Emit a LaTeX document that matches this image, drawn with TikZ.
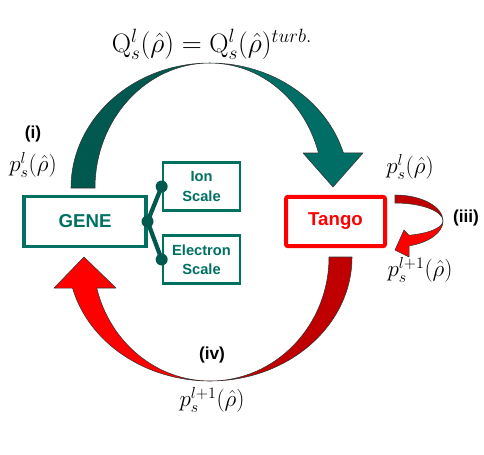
\documentclass[tikz,border=0pt]{standalone}
\usepackage{fontspec}
\newfontfamily\arial{Liberation Sans}
\definecolor{tealF}{RGB}{0,110,100}
\definecolor{tealB}{RGB}{0,88,78}
\definecolor{boxteal}{RGB}{0,112,98}
\definecolor{redF}{RGB}{255,0,0}
\definecolor{redB}{RGB}{192,0,0}
\tikzset{
  band/.style={draw=black!80, line width=0.4pt, line join=round},
  tbox/.style={draw=boxteal, line width=2.8pt, text=boxteal, inner sep=0pt, font=\arial\bfseries\fontsize{14}{16}\selectfont},
  sbox/.style={draw=boxteal, line width=2pt, text=boxteal, inner sep=0pt, align=center, font=\arial\bfseries\fontsize{11}{14.5}\selectfont, minimum width=57.75pt, minimum height=36pt},
  rbox/.style={draw=redF, line width=3pt, rounded corners=1.5pt, text=redF, inner sep=0pt, font=\arial\bfseries\fontsize{14}{16}\selectfont},
  lab/.style={font=\arial\bfseries\fontsize{13}{15}\selectfont},
  mlab/.style={font=\fontsize{18}{20}\selectfont, inner sep=0pt},
  dot/.style={circle, fill=tealB, inner sep=0pt, minimum size=9pt},
  link/.style={draw=tealB, line width=3.2pt}
}
\begin{document}
\begin{tikzpicture}[x=0.75pt,y=-0.75pt]
\useasboundingbox (0,0) rectangle (484,454);
% teal curved arrow (top)
\fill[tealB, band] (71,188) arc[start angle=180, end angle=270, x radius=139, y radius=125]
  arc[start angle=270, end angle=180, x radius=115, y radius=125] -- cycle;
\fill[tealF, band] (210,63) arc[start angle=270, end angle=343.7, x radius=139, y radius=125]
  -- (363,153) -- (333,187) -- (303,153) -- (318.5,153)
  arc[start angle=343.7, end angle=270, x radius=113, y radius=125] -- cycle;
% red curved arrow (bottom)
\fill[redB, band] (352,257) arc[start angle=0, end angle=90, x radius=142, y radius=124]
  arc[start angle=90, end angle=0, x radius=119, y radius=124] -- cycle;
\fill[redF, band] (210,381) arc[start angle=90, end angle=165.5, x radius=142, y radius=124]
  -- (54,288) -- (84,257) -- (116,288) -- (96.7,288)
  arc[start angle=165.5, end angle=90, x radius=117, y radius=124] -- cycle;
% small red arrow (iii)
\fill[redB, band] (395,195) arc[start angle=270, end angle=360, x radius=48, y radius=26]
  arc[start angle=0, end angle=-90, x radius=48, y radius=18] -- cycle;
\fill[redF, band] (443,221) arc[start angle=0, end angle=73, x radius=48, y radius=26]
  -- (409,257) -- (395,250) -- (404,230) -- (409,235.3)
  arc[start angle=73, end angle=0, x radius=48, y radius=15] -- cycle;
% boxes
\node[tbox, minimum width=91pt, minimum height=37.5pt] (gene) at (85,221.5) {GENE};
\node[sbox] (ion) at (201.5,186.5) {Ion\\Scale};
\node[sbox] (elec) at (201.5,259.5) {Electron\\Scale};
\node[rbox, minimum width=74.25pt, minimum height=37pt] (tango) at (335.5,221.5) {Tango};
% connectors
\draw[link] (gene.east) -- (ion.west);
\draw[link] (gene.east) -- (elec.west);
\node[dot] (d0) at (gene.east) {};
\node[dot] (d1) at (ion.west) {};
\node[dot] (d2) at (elec.west) {};
% labels
\node[font=\fontsize{20}{22}\selectfont, inner sep=0pt] (eq) at (212,44) {$\mathrm{Q}_s^l(\hat{\rho})=\mathrm{Q}_s^l(\hat{\rho})^{turb.}$};
\node[lab] (li) at (33,134) {(i)};
\node[mlab] (pl1) at (33,165) {$p_s^l(\hat{\rho})$};
\node[mlab] (pl2) at (410,167) {$p_s^l(\hat{\rho})$};
\node[lab] (liii) at (466,218) {(iii)};
\node[mlab] (pl3) at (420,270) {$p_s^{l+1}(\hat{\rho})$};
\node[lab] (liv) at (212,355) {(iv)};
\node[mlab] (pl4) at (212,400) {$p_s^{l+1}(\hat{\rho})$};
\end{tikzpicture}
\end{document}
